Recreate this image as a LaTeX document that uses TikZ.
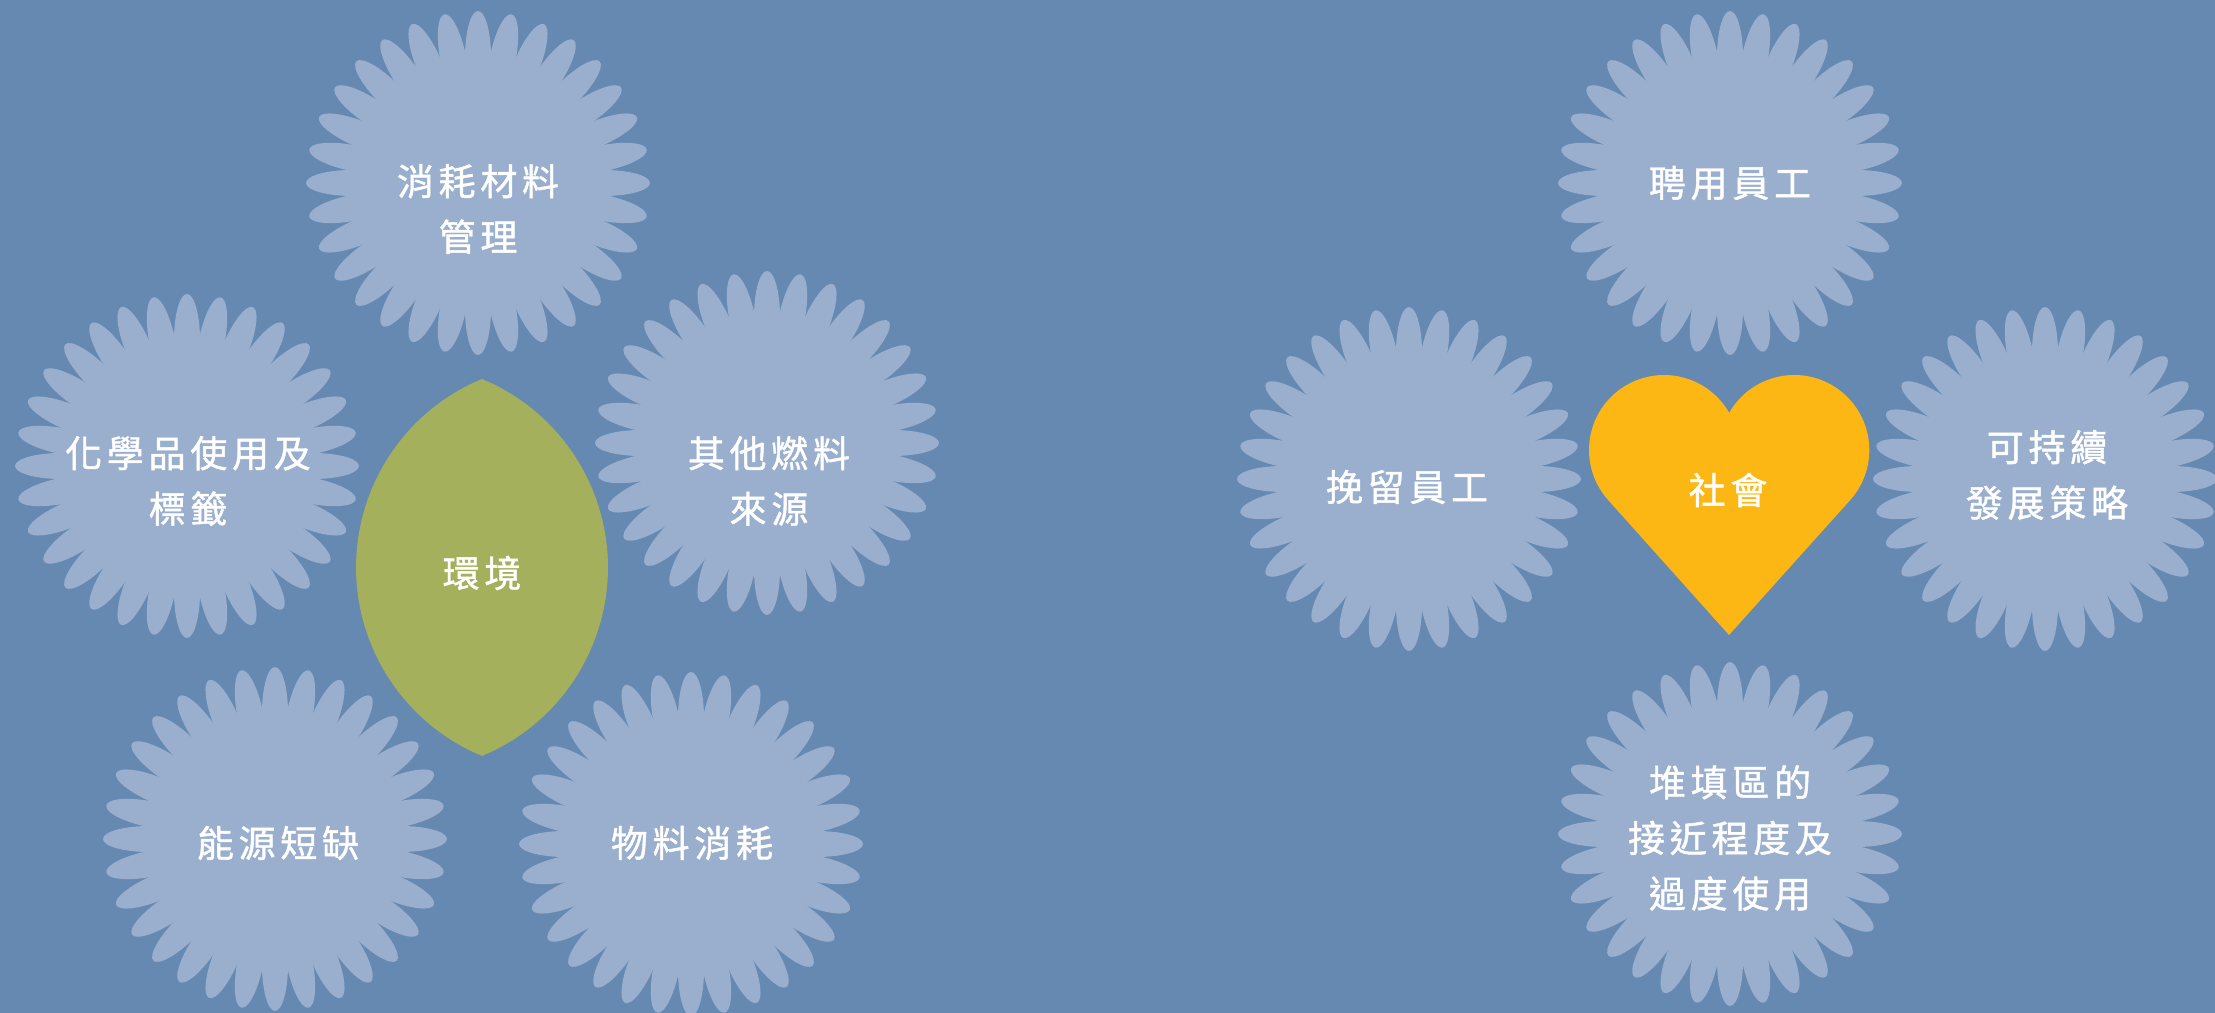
\documentclass[tikz,border=0pt]{standalone}
\usepackage{fontspec}
\usepackage{tikz}
\newfontfamily\cjkfont[LetterSpace=13, FakeBold=1.2]{Noto Sans CJK TC}
\definecolor{bgblue}{HTML}{6689B2}
\definecolor{petal}{HTML}{9AAFCE}
\definecolor{leafgreen}{HTML}{A4B05B}
\definecolor{heartgold}{HTML}{FDB714}
\tikzset{
  flowertext/.style={text=white, align=center, inner sep=0pt,
    font=\cjkfont\fontsize{10.5}{15.8}\selectfont}
}

\begin{document}
\begin{tikzpicture}[x=0.01cm, y=0.01cm]
    \def \n {32}
    \def \rin {116}
    \def \rpetal {126} % distance of petal centres, in px
    \useasboundingbox (0,0) rectangle (2215,-1013);
    \fill[bgblue] (0,0) rectangle (2215,-1013);
    \foreach \cx/\cy in {478/183, 187/466, 767/443, 275/839, 691/844,
                         1730/183, 1409/479, 2045/479, 1730/834}
    {
      \fill[petal] (\cx,-\cy) circle[radius=\rin];
      \foreach \s in {1,...,\n}
        \fill[petal, shift={(\cx,-\cy)}, rotate={360/\n * (\s - 1)}]
          (\rpetal,0) ellipse[x radius=46, y radius=13];
    }
    % leaf
    \fill[leafgreen] (482,-379) arc[start angle=112.5, end angle=247.5, radius=204]
      arc[start angle=-67.5, end angle=67.5, radius=204] -- cycle;
    % heart
    \fill[heartgold] (1729,-635) -- (1608.2,-500.1)
      arc[start angle=221.9, end angle=29.7, radius=75]
      arc[start angle=150.3, end angle=-41.9, radius=75] -- cycle;

    \node[flowertext] (mgmt) at (478,-209) {消耗材料\\管理};
    \node[flowertext] (chem) at (188,-481) {化學品使用及\\標籤};
    \node[flowertext] (fuel) at (769,-481) {其他燃料\\來源};
    \node[flowertext] (energy) at (278,-843) {能源短缺};
    \node[flowertext] (material) at (692,-843) {物料消耗};
    \node[flowertext] (env) at (482,-573) {環境};
    \node[flowertext] (hire) at (1730,-183) {聘用員工};
    \node[flowertext] (retain) at (1407,-487) {挽留員工};
    \node[flowertext] (strategy) at (2047,-475) {可持續\\發展策略};
    \node[flowertext] (landfill) at (1730,-838) {堆填區的\\接近程度及\\過度使用};
    \node[flowertext] (society) at (1728,-490) {社會};
\end{tikzpicture}
\end{document}
